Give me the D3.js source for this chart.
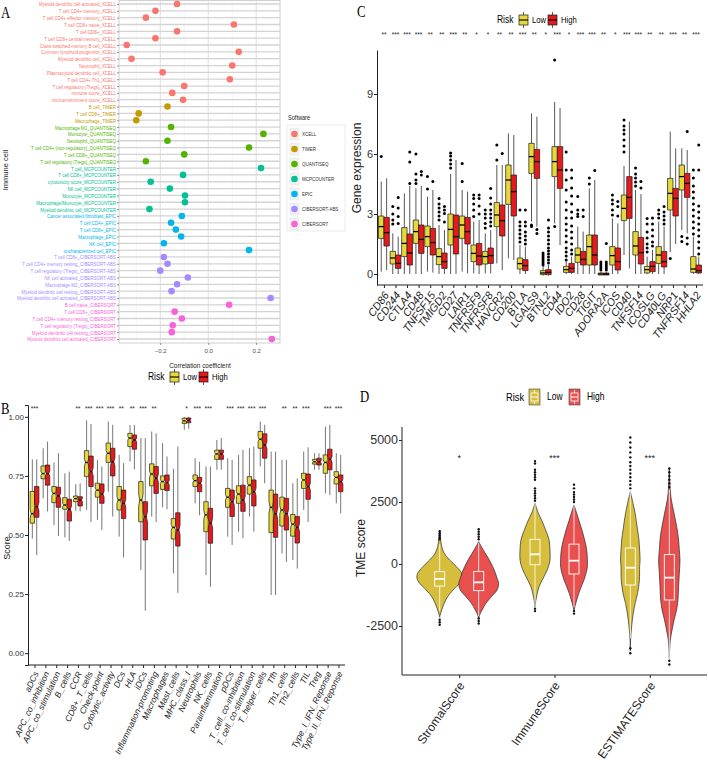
<!DOCTYPE html>
<html>
<head>
<meta charset="utf-8">
<script src="https://cdn.jsdelivr.net/npm/d3@7"></script>
<style>
body { margin: 0; background: #fff; }
svg text { font-family: "Liberation Sans", Arial, "DejaVu Sans", sans-serif; }
svg text.letter { font-family: "Liberation Serif", "Times New Roman", serif; }
</style>
</head>
<body>
<svg id="fig" width="708" height="777"></svg>
<script>
// ---------- A: correlation of immune cells with risk score
var softwareList = ['XCELL', 'TIMER', 'QUANTISEQ', 'MCPCOUNTER', 'EPIC', 'CIBERSORT-ABS', 'CIBERSORT'];
var softwareColors = ['#F8766D', '#C49A00', '#53B400', '#00C094', '#00B6EB', '#A58AFF', '#FB61D7'];
var immuneCells = [
    'Myeloid dendritic cell activated_XCELL', 'T cell CD4+ memory_XCELL', 'T cell CD4+ effector memory_XCELL',
    'T cell CD8+ naive_XCELL', 'T cell CD8+_XCELL', 'T cell CD8+ central memory_XCELL',
    'Class-switched memory B cell_XCELL', 'Common lymphoid progenitor_XCELL', 'Myeloid dendritic cell_XCELL',
    'Neutrophil_XCELL', 'Plasmacytoid dendritic cell_XCELL', 'T cell CD4+ Th1_XCELL',
    'T cell regulatory (Tregs)_XCELL', 'immune score_XCELL', 'microenvironment score_XCELL',
    'B cell_TIMER', 'T cell CD8+_TIMER', 'Macrophage_TIMER',
    'Macrophage M1_QUANTISEQ', 'Monocyte_QUANTISEQ', 'Neutrophil_QUANTISEQ',
    'T cell CD4+ (non-regulatory)_QUANTISEQ', 'T cell CD8+_QUANTISEQ', 'T cell regulatory (Tregs)_QUANTISEQ',
    'T cell_MCPCOUNTER', 'T cell CD8+_MCPCOUNTER', 'cytotoxicity score_MCPCOUNTER', 'NK cell_MCPCOUNTER',
    'Monocyte_MCPCOUNTER', 'Macrophage/Monocyte_MCPCOUNTER', 'Myeloid dendritic cell_MCPCOUNTER',
    'Cancer associated fibroblast_EPIC', 'T cell CD4+_EPIC', 'T cell CD8+_EPIC', 'Macrophage_EPIC',
    'NK cell_EPIC', 'uncharacterized cell_EPIC',
    'T cell CD8+_CIBERSORT-ABS', 'T cell CD4+ memory resting_CIBERSORT-ABS', 'T cell regulatory (Tregs)_CIBERSORT-ABS',
    'NK cell activated_CIBERSORT-ABS', 'Macrophage M2_CIBERSORT-ABS', 'Myeloid dendritic cell resting_CIBERSORT-ABS',
    'Myeloid dendritic cell activated_CIBERSORT-ABS',
    'B cell naive_CIBERSORT', 'T cell CD8+_CIBERSORT', 'T cell CD4+ memory resting_CIBERSORT',
    'T cell regulatory (Tregs)_CIBERSORT', 'Myeloid dendritic cell resting_CIBERSORT', 'Myeloid dendritic cell activated_CIBERSORT'
];
var corrCoef = [
    -0.13, -0.22, -0.26, 0.107, -0.13, -0.22, -0.34, 0.127, -0.32, 0.10, -0.19, 0.09, -0.10, -0.15, -0.105,
    -0.17, -0.29, -0.30,
    -0.155, 0.23, -0.17, 0.17, -0.10, -0.26,
    0.22, -0.105, -0.24, -0.16, -0.097, -0.097, -0.245,
    -0.11, -0.155, -0.135, -0.113, -0.185, 0.17,
    -0.185, -0.17, -0.20, -0.085, -0.13, -0.153, 0.26,
    0.087, -0.14, -0.11, -0.148, -0.152, 0.265
];
var corrTicks = [-0.2, 0, 0.2];

// ---------- B: immune function scores (ssGSEA), [lower whisker, q1, median, q3, upper whisker]
var immuneSets = ['aDCs', 'APC_co_inhibition', 'APC_co_stimulation', 'B_cells', 'CCR', 'CD8+_T_cells', 'Check-point',
    'Cytolytic_activity', 'DCs', 'HLA', 'iDCs', 'Inflammation-promoting', 'Macrophages', 'Mast_cells', 'MHC_class_I',
    'Neutrophils', 'NK_cells', 'Parainflammation', 'pDCs', 'T_cell_co-inhibition', 'T_cell_co-stimulation',
    'T_helper_cells', 'Tfh', 'Th1_cells', 'Th2_cells', 'TIL', 'Treg', 'Type_I_IFN_Reponse', 'Type_II_IFN_Reponse'];
var immuneSig = ['***', '', '', '', '**', '***', '***', '***', '**', '**', '***', '**', '', '', '*', '***', '***', '',
    '***', '***', '***', '***', '', '**', '**', '***', '', '***', '***'];
var scoreLow = [
    [0.485, 0.55, 0.59, 0.684, 0.82], [0.655, 0.738, 0.76, 0.792, 0.867], [0.542, 0.637, 0.676, 0.705, 0.807],
    [0.49, 0.609, 0.627, 0.658, 0.761], [0.603, 0.641, 0.654, 0.665, 0.715], [0.606, 0.747, 0.807, 0.857, 0.985],
    [0.564, 0.66, 0.69, 0.719, 0.818], [0.683, 0.807, 0.846, 0.889, 0.98], [0.493, 0.606, 0.648, 0.705, 0.839],
    [0.81, 0.874, 0.91, 0.93, 0.965], [0.352, 0.556, 0.648, 0.726, 0.91], [0.578, 0.708, 0.758, 0.801, 0.938],
    [0.617, 0.693, 0.726, 0.75, 0.889], [0.337, 0.483, 0.532, 0.57, 0.78], [0.945, 0.972, 0.983, 0.994, 1.0],
    [0.634, 0.705, 0.73, 0.754, 0.825], [0.33, 0.514, 0.585, 0.641, 0.79], [0.776, 0.82, 0.843, 0.859, 0.902],
    [0.493, 0.617, 0.66, 0.697, 0.825], [0.514, 0.634, 0.673, 0.708, 0.839], [0.578, 0.673, 0.711, 0.747, 0.867],
    [0.79, 0.867, 0.905, 0.938, 0.98], [0.246, 0.51, 0.617, 0.69, 0.853], [0.422, 0.538, 0.606, 0.66, 0.818],
    [0.394, 0.495, 0.546, 0.587, 0.719], [0.606, 0.697, 0.733, 0.761, 0.853], [0.776, 0.8, 0.81, 0.82, 0.846],
    [0.676, 0.761, 0.807, 0.839, 0.959], [0.634, 0.716, 0.744, 0.768, 0.846]
];
var scoreHigh = [
    [0.415, 0.575, 0.62, 0.705, 0.82], [0.6, 0.711, 0.76, 0.796, 0.895], [0.496, 0.617, 0.665, 0.702, 0.846],
    [0.475, 0.559, 0.609, 0.651, 0.768], [0.6, 0.623, 0.648, 0.662, 0.719], [0.555, 0.705, 0.768, 0.834, 0.97],
    [0.521, 0.634, 0.673, 0.716, 0.79], [0.578, 0.75, 0.81, 0.867, 0.966], [0.405, 0.57, 0.634, 0.69, 0.804],
    [0.778, 0.863, 0.902, 0.923, 0.965], [0.18, 0.479, 0.578, 0.641, 0.91], [0.555, 0.676, 0.74, 0.79, 0.93],
    [0.609, 0.688, 0.722, 0.754, 0.832], [0.255, 0.453, 0.521, 0.594, 0.874], [0.95, 0.975, 0.985, 0.995, 1.0],
    [0.584, 0.683, 0.719, 0.744, 0.81], [0.281, 0.465, 0.55, 0.613, 0.79], [0.776, 0.82, 0.843, 0.859, 0.91],
    [0.458, 0.578, 0.641, 0.69, 0.818], [0.486, 0.6, 0.648, 0.711, 0.86], [0.514, 0.623, 0.683, 0.733, 0.874],
    [0.719, 0.825, 0.88, 0.928, 0.966], [0.246, 0.49, 0.59, 0.673, 0.853], [0.386, 0.521, 0.59, 0.655, 0.818],
    [0.358, 0.466, 0.532, 0.578, 0.74], [0.555, 0.651, 0.705, 0.758, 0.871], [0.776, 0.796, 0.81, 0.825, 0.846],
    [0.669, 0.776, 0.82, 0.863, 0.966], [0.592, 0.683, 0.726, 0.754, 0.839]
];
var scoreTicks = [0, 0.25, 0.5, 0.75, 1];

// ---------- C: immune checkpoint gene expression
var checkpointGenes = ['CD86', 'CD244', 'CTLA4', 'CD48', 'TNFSF15', 'TMIGD2', 'CD27', 'LAIR1', 'TNFRSF9', 'TNFRSF8',
    'HAVCR2', 'CD200', 'BTLA', 'LGALS9', 'BTNL2', 'CD44', 'IDO2', 'CD28', 'TIGIT', 'ADORA2A', 'ICOS', 'CD40',
    'TNFSF14', 'ICOSLG', 'CD40LG', 'NRP1', 'TNFRSF14', 'HHLA2'];
var geneSig = ['**', '***', '***', '***', '**', '**', '***', '**', '*', '*', '**', '**', '***', '**', '*', '***', '*',
    '***', '***', '**', '*', '***', '***', '**', '**', '***', '**', '***'];
var geneLow = [
    [0.12, 1.78, 2.37, 2.9, 4.62], [0, 0.5, 0.8, 1.13, 2.03], [0, 0.87, 1.53, 2.32, 4.03], [0, 1.53, 2.12, 2.7, 4.28],
    [0.12, 1.37, 1.87, 2.4, 3.87], [0, 0.47, 0.87, 1.27, 2.45], [0, 1.45, 2.23, 3.0, 5.0], [0.12, 1.78, 2.45, 2.9, 4.2],
    [0.03, 0.62, 1.03, 1.45, 2.62], [0.03, 0.5, 0.87, 1.13, 2.03], [0.53, 2.37, 2.95, 3.57, 5.45], [0.78, 3.48, 4.7, 5.45, 7.03],
    [0, 0.25, 0.52, 0.8, 1.45], [2.62, 5.03, 5.87, 6.53, 8.03], [-0.08, -0.03, 0.05, 0.17, 0.38], [2.53, 4.87, 5.62, 6.37, 8.6],
    [0, 0.08, 0.22, 0.38, 0.62], [0, 0.58, 0.95, 1.3, 2.37], [0, 0.45, 1.37, 1.95, 4.28], [-0.05, -0.05, 0, 0.05, 0.1],
    [0, 0.45, 0.92, 1.37, 2.78], [0.95, 2.67, 3.28, 3.95, 5.4], [0, 0.95, 1.4, 2.12, 4.2], [0, 0.05, 0.22, 0.38, 0.87],
    [0, 0.53, 0.95, 1.37, 2.62], [1.1, 3.2, 4.03, 4.78, 7.12], [2.2, 4.2, 4.87, 5.45, 6.28], [0, 0.08, 0.25, 0.87, 1.87]
];
var geneHigh = [
    [0.2, 1.4, 2.07, 2.83, 4.78], [0, 0.28, 0.53, 0.95, 1.87], [0, 0.45, 1.05, 2.0, 4.4], [0, 1.03, 1.73, 2.45, 4.4],
    [0.07, 0.95, 1.57, 2.28, 4.2], [0, 0.28, 0.62, 1.05, 2.2], [0, 1.0, 1.87, 2.95, 5.7], [0.03, 1.5, 2.12, 2.83, 4.12],
    [0, 0.45, 0.9, 1.53, 2.7], [0.03, 0.53, 0.92, 1.3, 2.2], [0.2, 1.9, 2.67, 3.45, 5.45], [0.7, 2.9, 4.12, 4.95, 6.95],
    [0, 0.17, 0.42, 0.72, 1.37], [2.37, 4.78, 5.62, 6.23, 7.87], [-0.08, -0.03, 0.08, 0.22, 0.45], [1.45, 4.28, 5.2, 6.37, 8.3],
    [0, 0.08, 0.28, 0.53, 0.87], [0, 0.45, 0.73, 1.13, 2.12], [0, 0.45, 0.95, 1.95, 4.7], [-0.05, -0.05, 0, 0.05, 0.1],
    [0, 0.2, 0.62, 1.3, 2.53], [0.28, 2.78, 3.83, 4.87, 7.62], [0, 0.5, 1.07, 1.83, 4.0], [0, 0.12, 0.38, 0.62, 1.2],
    [0, 0.35, 0.62, 1.13, 2.37], [1.5, 2.9, 3.78, 4.28, 6.28], [2.03, 3.83, 4.53, 5.03, 6.2], [0, 0.05, 0.17, 0.45, 0.87]
];
var geneLowOut = [
    [5.87], [2.5, 2.7, 3.0, 3.37], [], [4.53, 4.7, 5.0, 6.0], [4.25, 4.87], [2.7, 2.9, 3.1, 3.3, 3.5, 3.78],
    [5.3, 5.5, 5.7, 5.9, 6.05], [4.62, 5.53], [2.87, 3.2, 3.5, 3.78, 3.95], [2.3, 2.53, 2.8, 3.0, 3.2], [5.7, 6.45], [],
    [1.6, 1.8, 2.0, 2.2, 2.4, 2.6, 3.2], [2.37, 2.45], [0.45, 0.55, 0.65, 0.75, 0.85, 0.95, 1.05], [2.37, 10.7],
    [0.7, 0.9, 1.1, 1.3, 1.6, 1.9, 2.2, 2.5, 2.8, 3.2, 3.6, 4.2, 4.7, 5.2, 6.1], [2.87, 3.0, 3.2, 3.87], [4.5, 4.8],
    [0.2, 0.3, 0.4, 0.5, 0.6], [2.95, 3.2, 3.5, 3.7, 3.95], [6.1, 6.4, 6.7, 7.0, 7.2, 7.4, 7.7], [4.4, 4.6, 4.8, 5.0, 5.3],
    [1.1, 1.3, 1.5, 1.8, 2.1, 2.5, 2.78], [2.8, 3.0, 3.2], [0.78], [1.62, 1.87],
    [2.0, 2.3, 2.6, 2.9, 3.2, 3.5, 3.8, 4.1, 4.4, 4.8, 5.2]
];
var geneHighOut = [
    [], [2.53, 2.87, 3.3, 3.83], [4.53, 5.6, 6.1], [4.95, 5.12], [4.62], [2.6, 3.03, 3.2, 3.37], [], [],
    [3.0, 3.4, 3.78, 3.95], [2.4, 2.6, 2.8, 3.0, 3.2, 3.5, 3.8, 4.28], [6.03], [],
    [1.5, 1.7, 1.9, 2.1, 2.4, 2.6, 3.2], [2.03, 2.23], [0.55, 0.7, 0.85, 1.0, 1.15, 1.3, 1.5, 1.7, 1.9, 2.1, 2.3, 2.7], [],
    [1.0, 1.2, 1.5, 1.8, 2.1, 2.4, 2.8, 3.1, 3.5, 3.9, 4.3, 4.8, 5.2], [2.87, 3.2], [5.17], [0.2, 0.3, 0.4, 0.5, 0.6, 1.53],
    [2.9, 3.37, 3.62], [], [4.3, 4.62], [1.4, 1.6, 1.9, 2.2, 2.5, 2.8], [2.5, 2.7, 2.9, 3.1, 3.37], [], [1.5, 1.8, 7.12],
    [1.0, 1.3, 1.6, 1.9, 2.2, 2.5, 2.8, 3.1, 3.4, 5.2, 6.45]
];
var geneTicks = [0, 3, 6, 9];

// ---------- D: ESTIMATE scores, violin profiles read as [score, relative density]
var tmeScores = ['StromalScore', 'ImmuneScore', 'ESTIMATEScore'];
var tmeSig = ['*', '***', '***'];
var tmeLowBox = [[-1900, -890, -600, -310, 800], [-1700, -30, 390, 995, 2450], [-3000, -847, -150, 645, 2900]];
var tmeHighBox = [[-2100, -1075, -740, -300, 850], [-1750, -403, 134, 800, 2400], [-3800, -1450, -550, 380, 3000]];
var tmeLowOut = [
    [1000, 1080, 1160, 1240, 1320, -2250, -2350, -2450],
    [2550, 2650, 2750, 2850, 2950, 3050, 3400, 3500, 3600, 3700, 3800, 4050, 4150, -1800, -1900],
    [3050, 3200, 3350, 3500, 3650, 3800, 3950, 4100, 4300, 4500, 4700, 4900, 5100, -3400, -3600]
];
var tmeHighOut = [
    [1000, 1100, 1200, 1300, 1400, -2200, -2300, -2400],
    [2500, 2600, 2700, 2800, 2900, 3050, 3200, -1900, -2000],
    [3100, 3250, 3400, 3550, 3700, 3850, -3900, -4050]
];
var tmeLowViolin = [
    [[1371, 0], [1000, 0.04], [699, 0.09], [430, 0.2], [161, 0.44], [-108, 0.74], [-376, 0.97], [-578, 1.0], [-780, 0.88],
        [-1048, 0.59], [-1317, 0.35], [-1586, 0.2], [-1855, 0.09], [-2056, 0.02], [-2150, 0]],
    [[2446, 0], [2043, 0.15], [1774, 0.29], [1371, 0.47], [968, 0.62], [565, 0.66], [161, 0.66], [-108, 0.59],
        [-376, 0.47], [-645, 0.32], [-914, 0.18], [-1183, 0.1], [-1451, 0.04], [-1720, 0]],
    [[2916, 0], [2446, 0.12], [2043, 0.21], [1371, 0.32], [968, 0.38], [565, 0.41], [161, 0.43], [-108, 0.41],
        [-645, 0.4], [-1183, 0.32], [-1586, 0.21], [-2056, 0.12], [-2500, 0.06], [-3100, 0.01], [-3500, 0]]
];
var tmeHighViolin = [
    [[900, 0], [700, 0.12], [430, 0.29], [161, 0.47], [-108, 0.62], [-376, 0.74], [-578, 0.81], [-780, 0.88],
        [-1048, 0.81], [-1317, 0.56], [-1586, 0.32], [-1855, 0.15], [-2056, 0.04], [-2200, 0]],
    [[2379, 0], [2043, 0.12], [1774, 0.21], [1371, 0.35], [968, 0.47], [565, 0.56], [161, 0.59], [-108, 0.59],
        [-376, 0.53], [-645, 0.44], [-914, 0.32], [-1183, 0.21], [-1451, 0.12], [-1720, 0.04], [-1900, 0]],
    [[3850, 0], [3000, 0.04], [2580, 0.09], [2043, 0.21], [1371, 0.35], [968, 0.41], [565, 0.44], [161, 0.47],
        [-376, 0.44], [-914, 0.41], [-1451, 0.38], [-1855, 0.32], [-2258, 0.21], [-2661, 0.12], [-3100, 0.04], [-3800, 0]]
];
var tmeTicks = [-2500, 0, 2500, 5000];

var riskLevels = ['Low', 'High'];

// ---------- drawing
var svg = d3.select('#fig');
var lowFill = '#E6D83A', highFill = '#E41A1C';
var lowViolin = '#D6BE3C', highViolin = '#E8504F';

function panelLetter(x, y, s) {
    svg.append('text').attr('class', 'letter').attr('x', x).attr('y', y)
        .attr('font-size', 17).attr('transform', 'translate(' + x + ',' + y + ') scale(0.75,1) translate(' + (-x) + ',' + (-y) + ')')
        .text(s);
}

// box with optional notch; s = [wl, q1, med, q3, wh]
function drawBox(g, cx, w, s, fill, y, notched, wcol) {
    g.append('line').attr('x1', cx).attr('x2', cx).attr('y1', y(s[0])).attr('y2', y(s[1]))
        .attr('stroke', wcol).attr('stroke-width', 0.9);
    g.append('line').attr('x1', cx).attr('x2', cx).attr('y1', y(s[3])).attr('y2', y(s[4]))
        .attr('stroke', wcol).attr('stroke-width', 0.9);
    var x0 = cx - w / 2, x1 = cx + w / 2;
    var yq1 = y(s[1]), yq3 = y(s[3]), ym = y(s[2]);
    var pts;
    var inset = 0;
    if (notched) {
        var nh = Math.max(1, Math.abs(yq1 - yq3) * 0.14);
        inset = w * 0.25;
        pts = [[x0, yq3], [x1, yq3], [x1, Math.max(yq3, ym - nh)], [x1 - inset, ym], [x1, Math.min(yq1, ym + nh)], [x1, yq1],
            [x0, yq1], [x0, Math.min(yq1, ym + nh)], [x0 + inset, ym], [x0, Math.max(yq3, ym - nh)]];
    } else {
        pts = [[x0, yq3], [x1, yq3], [x1, yq1], [x0, yq1]];
    }
    g.append('path').attr('d', d3.line()(pts) + 'Z').attr('fill', fill)
        .attr('stroke', '#1a1a1a').attr('stroke-width', 0.7);
    g.append('line').attr('x1', x0 + inset).attr('x2', x1 - inset).attr('y1', ym).attr('y2', ym)
        .attr('stroke', '#000').attr('stroke-width', 1.3);
}

function boxKey(g, x, y, fill) {
    g.append('line').attr('x1', x + 4.5).attr('x2', x + 4.5).attr('y1', y - 8).attr('y2', y + 8)
        .attr('stroke', '#333').attr('stroke-width', 0.8);
    g.append('rect').attr('x', x).attr('y', y - 5).attr('width', 9).attr('height', 10)
        .attr('fill', fill).attr('stroke', '#1a1a1a').attr('stroke-width', 0.7);
    g.append('line').attr('x1', x).attr('x2', x + 9).attr('y1', y).attr('y2', y)
        .attr('stroke', '#000').attr('stroke-width', 1.1);
}

function riskLegend(g, x, y, fills, keyFn, fs) {
    g.append('text').attr('x', x).attr('y', y).attr('dy', '0.35em').attr('font-size', fs)
        .attr('transform', 'translate(' + x + ',0) scale(0.85,1) translate(' + (-x) + ',0)').text('Risk');
    var kx = x + 22;
    riskLevels.forEach(function (lv, i) {
        keyFn(g, kx, y, fills[i]);
        g.append('text').attr('x', kx + 13).attr('y', y).attr('dy', '0.35em').attr('font-size', fs - 1)
            .attr('transform', 'translate(' + (kx + 13) + ',0) scale(0.85,1) translate(' + (-(kx + 13)) + ',0)').text(lv);
        kx += i === 0 ? 29 : 0;
    });
}

// ===== Panel A
(function () {
    var g = svg.append('g');
    var color = d3.scaleOrdinal().domain(softwareList).range(softwareColors);
    var x = d3.scaleLinear().domain([-0.372, 0.295]).range([119, 279]);
    var y = d3.scalePoint().domain(immuneCells).range([4, 339]);
    var top = 0.5, bottom = 343;

    g.append('rect').attr('x', 119).attr('y', top).attr('width', 161).attr('height', bottom - top)
        .attr('fill', '#fff').attr('stroke', '#c4c4c4').attr('stroke-width', 0.8);
    [-0.3, -0.1, 0.1].forEach(function (v) {
        g.append('line').attr('x1', x(v)).attr('x2', x(v)).attr('y1', top).attr('y2', bottom)
            .attr('stroke', '#ececec').attr('stroke-width', 0.6);
    });
    corrTicks.forEach(function (v) {
        g.append('line').attr('x1', x(v)).attr('x2', x(v)).attr('y1', top).attr('y2', bottom)
            .attr('stroke', '#dcdcdc').attr('stroke-width', 1);
    });
    g.selectAll('.hgrid').data(immuneCells).enter().append('line')
        .attr('x1', 119).attr('x2', 280).attr('y1', function (d) { return y(d); }).attr('y2', function (d) { return y(d); })
        .attr('stroke', '#d3d3d3').attr('stroke-width', 1.3);

    var yAxis = g.append('g').attr('transform', 'translate(119,0)')
        .call(d3.axisLeft(y).tickSize(2).tickPadding(1));
    yAxis.select('.domain').remove();
    yAxis.selectAll('line').attr('stroke', '#333').attr('stroke-width', 0.5);
    yAxis.selectAll('text')
        .attr('font-size', 6.2)
        .attr('x', -3 / 0.72).attr('transform', 'scale(0.72,1)')
        .attr('fill', function (d) { return color(d.slice(d.lastIndexOf('_') + 1)); });

    var xAxis = g.append('g').attr('transform', 'translate(0,' + bottom + ')')
        .call(d3.axisBottom(x).tickValues(corrTicks).tickSize(2).tickFormat(d3.format('.1f')));
    xAxis.select('.domain').remove();
    xAxis.selectAll('line').attr('stroke', '#333').attr('stroke-width', 0.5);
    xAxis.selectAll('text').attr('font-size', 6).attr('fill', '#4d4d4d').attr('dy', '0.9em');

    g.selectAll('.dot').data(immuneCells).enter().append('circle')
        .attr('cx', function (d, i) { return x(corrCoef[i]); })
        .attr('cy', function (d) { return y(d); })
        .attr('r', 3.3)
        .attr('fill', function (d) { return color(d.slice(d.lastIndexOf('_') + 1)); });

    g.append('text').attr('x', 200).attr('y', 368).attr('text-anchor', 'middle').attr('font-size', 7.5)
        .attr('fill', '#222').attr('transform', 'translate(200,0) scale(0.85,1) translate(-200,0)').text('Correlation coefficient');
    g.append('text').attr('transform', 'translate(8,170) rotate(-90)').attr('text-anchor', 'middle')
        .attr('font-size', 7.5).attr('fill', '#222').text('Immune cell');

    // legend
    var lg = g.append('g');
    lg.append('text').attr('x', 288).attr('y', 120).attr('font-size', 7).attr('fill', '#222')
        .attr('transform', 'translate(288,0) scale(0.8,1) translate(-288,0)').text('Software');
    lg.append('rect').attr('x', 287).attr('y', 125).attr('width', 58).attr('height', 106)
        .attr('fill', 'none').attr('stroke', '#dcdcdc').attr('stroke-width', 0.6);
    softwareList.forEach(function (s, i) {
        var yy = 134 + i * 15;
        lg.append('rect').attr('x', 290).attr('y', yy - 6).attr('width', 9).attr('height', 12)
            .attr('fill', '#f2f2f2').attr('stroke', '#e0e0e0').attr('stroke-width', 0.5);
        lg.append('circle').attr('cx', 294.5).attr('cy', yy).attr('r', 3.3).attr('fill', color(s));
        lg.append('text').attr('x', 302).attr('y', yy).attr('dy', '0.35em').attr('font-size', 6)
            .attr('fill', '#333').attr('transform', 'translate(302,0) scale(0.75,1) translate(-302,0)').text(s);
    });
})();

// ===== Panel B
(function () {
    var g = svg.append('g');
    var x = d3.scalePoint().domain(immuneSets).range([28, 345]).padding(0.6);
    var y = d3.scaleLinear().domain([-0.05, 1.05]).range([665, 405]);
    var bw = 4.4;

    riskLegend(g, 148, 377, [lowFill, highFill], boxKey, 10);

    immuneSets.forEach(function (d, i) {
        drawBox(g, x(d) - bw / 2, bw, scoreLow[i], lowFill, y, true, '#666');
        drawBox(g, x(d) + bw / 2, bw, scoreHigh[i], highFill, y, true, '#666');
        if (immuneSig[i]) {
            g.append('text').attr('x', x(d)).attr('y', 411).attr('text-anchor', 'middle')
                .attr('font-size', 6.5).attr('fill', '#222').text(immuneSig[i]);
        }
    });

    var yAxis = g.append('g').attr('transform', 'translate(28,0)')
        .call(d3.axisLeft(y).tickValues(scoreTicks).tickSize(3).tickFormat(d3.format('.2f')));
    yAxis.select('.domain').attr('stroke', '#222');
    yAxis.selectAll('line').attr('stroke', '#222');
    yAxis.selectAll('text').attr('font-size', 8).attr('fill', '#333').attr('x', -4);

    var xAxis = g.append('g').attr('transform', 'translate(0,665)')
        .call(d3.axisBottom(x).tickSize(3).tickSizeOuter(0));
    xAxis.select('.domain').attr('stroke', '#222').attr('d', 'M28,0H345');
    xAxis.selectAll('line').attr('stroke', '#222');
    xAxis.selectAll('text').attr('font-size', 8.6).attr('font-style', 'italic').attr('fill', '#222')
        .attr('text-anchor', 'end').attr('x', 0).attr('y', 0).attr('dy', '0.35em')
        .attr('transform', 'translate(1,7) rotate(-65)');

    g.append('text').attr('transform', 'translate(10,548) rotate(-90)').attr('text-anchor', 'middle')
        .attr('font-size', 9).attr('fill', '#222').text('Score');
})();

// ===== Panel C
(function () {
    var g = svg.append('g');
    var x = d3.scalePoint().domain(checkpointGenes).range([377, 703]).padding(0.6);
    var y = d3.scaleLinear().domain([-0.55, 11.2]).range([285, 50]);
    var bw = 5.4;

    riskLegend(g, 497, 20, [lowFill, highFill], boxKey, 10);

    checkpointGenes.forEach(function (d, i) {
        var xl = x(d) - bw / 2, xh = x(d) + bw / 2;
        drawBox(g, xl, bw, geneLow[i], lowFill, y, false, '#444');
        drawBox(g, xh, bw, geneHigh[i], highFill, y, false, '#444');
        g.selectAll(null).data(geneLowOut[i]).enter().append('circle')
            .attr('cx', xl).attr('cy', function (v) { return y(v); }).attr('r', 1.5).attr('fill', '#000');
        g.selectAll(null).data(geneHighOut[i]).enter().append('circle')
            .attr('cx', xh).attr('cy', function (v) { return y(v); }).attr('r', 1.5).attr('fill', '#000');
        g.append('text').attr('x', x(d)).attr('y', 37).attr('text-anchor', 'middle')
            .attr('font-size', 6.5).attr('fill', '#222').text(geneSig[i]);
    });

    var yAxis = g.append('g').attr('transform', 'translate(377,0)')
        .call(d3.axisLeft(y).tickValues(geneTicks).tickSize(3).tickSizeOuter(0));
    yAxis.select('.domain').attr('stroke', '#222');
    yAxis.selectAll('line').attr('stroke', '#222');
    yAxis.selectAll('text').attr('font-size', 11).attr('fill', '#333').attr('x', -4);

    var xAxis = g.append('g').attr('transform', 'translate(0,285)')
        .call(d3.axisBottom(x).tickSize(3).tickSizeOuter(0));
    xAxis.select('.domain').attr('stroke', '#222').attr('d', 'M377,0H703');
    xAxis.selectAll('line').attr('stroke', '#222');
    xAxis.selectAll('text').attr('font-size', 10.8).attr('font-style', 'italic').attr('fill', '#222')
        .attr('text-anchor', 'end').attr('x', 0).attr('y', 0).attr('dy', '0.35em')
        .attr('transform', 'translate(2,8) rotate(-54)');

    g.append('text').attr('transform', 'translate(361,168) rotate(-90)').attr('text-anchor', 'middle')
        .attr('font-size', 12).attr('fill', '#222').text('Gene expression');
})();

// ===== Panel D
(function () {
    var g = svg.append('g');
    var x = d3.scalePoint().domain(tmeScores).range([402, 707]).padding(0.6);
    var y = d3.scaleLinear().domain([-4476, 5524]).range([675, 427]);
    var wd = d3.scaleLinear().domain([0, 1]).range([0, 22.7]);
    var dodge = 19.5;

    // legend with violin keys
    function violinKey(gg, kx, ky, fill) {
        gg.append('rect').attr('x', kx).attr('y', ky - 8).attr('width', 11).attr('height', 16)
            .attr('fill', fill).attr('stroke', '#444').attr('stroke-width', 0.6);
        gg.append('line').attr('x1', kx + 5.5).attr('x2', kx + 5.5).attr('y1', ky - 7).attr('y2', ky + 7)
            .attr('stroke', '#fff').attr('stroke-width', 0.8);
        gg.append('rect').attr('x', kx + 2).attr('y', ky - 4).attr('width', 7).attr('height', 8)
            .attr('fill', fill).attr('stroke', '#fff').attr('stroke-width', 0.8);
        gg.append('line').attr('x1', kx + 2).attr('x2', kx + 9).attr('y1', ky).attr('y2', ky)
            .attr('stroke', '#fff').attr('stroke-width', 1);
    }
    var lx = 506, ly = 397;
    g.append('text').attr('x', lx).attr('y', ly).attr('dy', '0.35em').attr('font-size', 11)
        .attr('transform', 'translate(' + lx + ',0) scale(0.85,1) translate(' + (-lx) + ',0)').text('Risk');
    violinKey(g, 529, ly, lowViolin);
    g.append('text').attr('x', 547).attr('y', ly).attr('dy', '0.35em').attr('font-size', 10)
        .attr('transform', 'translate(547,0) scale(0.85,1) translate(-547,0)').text('Low');
    violinKey(g, 569, ly, highViolin);
    g.append('text').attr('x', 587).attr('y', ly).attr('dy', '0.35em').attr('font-size', 10)
        .attr('transform', 'translate(587,0) scale(0.85,1) translate(-587,0)').text('High');

    function violin(cx, prof, box, outs, fill) {
        var area = d3.area()
            .y(function (p) { return y(p[0]); })
            .x0(function (p) { return cx - wd(p[1]); })
            .x1(function (p) { return cx + wd(p[1]); })
            .curve(d3.curveCatmullRom);
        g.append('path').attr('d', area(prof)).attr('fill', fill).attr('stroke', '#2b2b2b').attr('stroke-width', 0.7);
        g.selectAll(null).data(outs).enter().append('circle')
            .attr('cx', cx).attr('cy', function (v) { return y(v); }).attr('r', 1.2).attr('fill', '#111');
        g.append('line').attr('x1', cx).attr('x2', cx).attr('y1', y(box[0])).attr('y2', y(box[4]))
            .attr('stroke', '#fff').attr('stroke-width', 0.8);
        g.append('rect').attr('x', cx - 5).attr('y', y(box[3])).attr('width', 10).attr('height', y(box[1]) - y(box[3]))
            .attr('fill', fill).attr('stroke', '#fff').attr('stroke-width', 0.9);
        g.append('line').attr('x1', cx - 5).attr('x2', cx + 5).attr('y1', y(box[2])).attr('y2', y(box[2]))
            .attr('stroke', '#fff').attr('stroke-width', 1.8);
    }

    tmeScores.forEach(function (d, i) {
        violin(x(d) - dodge, tmeLowViolin[i], tmeLowBox[i], tmeLowOut[i], lowViolin);
        violin(x(d) + dodge, tmeHighViolin[i], tmeHighBox[i], tmeHighOut[i], highViolin);
        g.append('text').attr('x', x(d)).attr('y', 461).attr('text-anchor', 'middle')
            .attr('font-size', 9).attr('fill', '#222').text(tmeSig[i]);
    });

    var yAxis = g.append('g').attr('transform', 'translate(402,0)')
        .call(d3.axisLeft(y).tickValues(tmeTicks).tickSize(3).tickSizeOuter(0)
            .tickFormat(function (v) { return String(v); }));
    yAxis.select('.domain').attr('stroke', '#222').attr('d', 'M0,427V675');
    yAxis.selectAll('line').attr('stroke', '#222');
    yAxis.selectAll('text').attr('font-size', 12.5).attr('fill', '#333').attr('x', -4);

    var xAxis = g.append('g').attr('transform', 'translate(0,675)')
        .call(d3.axisBottom(x).tickSize(3).tickSizeOuter(0));
    xAxis.select('.domain').attr('stroke', '#222').attr('d', 'M402,0H707');
    xAxis.selectAll('line').attr('stroke', '#222');
    xAxis.selectAll('text').attr('font-size', 12).attr('fill', '#222')
        .attr('text-anchor', 'end').attr('x', 0).attr('y', 0).attr('dy', '0.35em')
        .attr('transform', 'translate(2,8) rotate(-55)');

    g.append('text').attr('transform', 'translate(365,548) rotate(-90)').attr('text-anchor', 'middle')
        .attr('font-size', 12).attr('fill', '#222').text('TME score');
})();

panelLetter(1, 18, 'A');
panelLetter(1, 414, 'B');
panelLetter(357, 17, 'C');
panelLetter(360, 402, 'D');
</script>
</body>
</html>
